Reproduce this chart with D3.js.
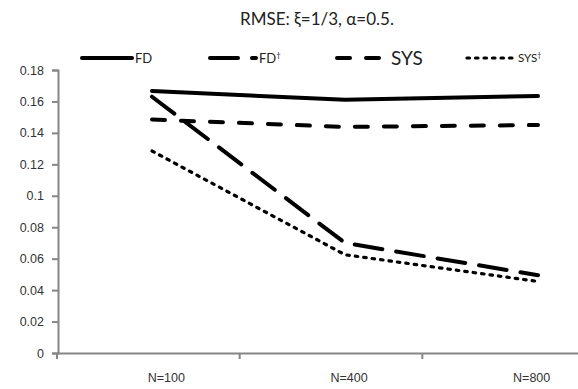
<!DOCTYPE html>
<html>
<head>
<meta charset="utf-8">
<script src="https://cdn.jsdelivr.net/npm/d3@7"></script>
<style>
  body { margin: 0; background: #fff; }
  svg { font-family: Lato, "Open Sans", sans-serif; }
</style>
</head>
<body>
<div id="chart"></div>
<script>
// sizes
const width = 578;
const height = 389;

// data
const categories = ["N=100", "N=400", "N=800"];
const yTicks = [0, 0.02, 0.04, 0.06, 0.08, 0.1, 0.12, 0.14, 0.16, 0.18];
const fd = [0.1667, 0.161, 0.1635];
const fdDagger = [0.163, 0.070, 0.0495];
const sys = [0.1485, 0.1438, 0.145];
const sysDagger = [0.1285, 0.0625, 0.0455];

const seriesList = [
  { name: "FD", sup: "", values: fd, dash: null, width: 4 },
  { name: "FD", sup: "\u2020", values: fdDagger, dash: "28,14", width: 4 },
  { name: "SYS", sup: "", values: sys, dash: "13,16", width: 4 },
  { name: "SYS", sup: "\u2020", values: sysDagger, dash: "2.5,6", width: 3.2 }
];

const svg = d3.select("#chart").append("svg")
  .attr("width", width)
  .attr("height", height);

// axis band for the category ticks, points for the lines
const xBand = d3.scaleBand().domain(categories).range([57, 605]);
const xPoint = d3.scalePoint().domain(categories).range([152, 538]);
const y = d3.scaleLinear().domain([0, 0.18]).range([353, 70]);

// y axis
const yAxis = svg.append("g")
  .attr("transform", "translate(58,0)")
  .call(d3.axisLeft(y).tickValues(yTicks).tickSize(6).tickPadding(8)
    .tickFormat(d => d === 0 ? "0" : String(+d.toFixed(2))));
yAxis.select(".domain").attr("stroke", "#868686").attr("stroke-width", 2);
yAxis.selectAll(".tick line").attr("stroke", "#868686").attr("stroke-width", 2);
yAxis.selectAll(".tick text").attr("fill", "#333").style("font-size", "12.5px");

// x axis
const xAxis = svg.append("g")
  .attr("transform", "translate(0,353)")
  .call(d3.axisBottom(xBand).tickSize(0).tickPadding(20));
xAxis.select(".domain").attr("stroke", "#868686").attr("stroke-width", 2);
xAxis.selectAll(".tick text")
  .attr("fill", "#333")
  .attr("dx", 18)
  .style("font-size", "12.5px");
// tick marks between categories
xAxis.selectAll(".bound")
  .data(categories)
  .enter()
  .append("line")
  .attr("x1", d => xBand(d))
  .attr("x2", d => xBand(d))
  .attr("y1", 0)
  .attr("y2", 6)
  .attr("stroke", "#868686")
  .attr("stroke-width", 2);

// lines
const line = d3.line()
  .x((d, i) => xPoint(categories[i]))
  .y(d => y(d));

seriesList.forEach(function (s) {
  svg.append("path")
    .datum(s.values)
    .attr("d", line)
    .attr("fill", "none")
    .attr("stroke", "#000")
    .attr("stroke-width", s.width)
    .attr("stroke-linecap", "round")
    .attr("stroke-linejoin", "round")
    .attr("stroke-dasharray", s.dash);
});

// title
svg.append("text")
  .attr("x", 240)
  .attr("y", 25)
  .attr("fill", "#222")
  .style("font-size", "17px")
  .text("RMSE: \u03be=1/3, \u03b1=0.5.");

// legend
const legend = [
  { x1: 82, x2: 132, tx: 135, size: 13 },
  { x1: 210, x2: 256, tx: 259, size: 13 },
  { x1: 337, x2: 381, tx: 391, size: 19 },
  { x1: 467, x2: 513, tx: 518, size: 11.5 }
];
legend.forEach(function (l, i) {
  const s = seriesList[i];
  svg.append("line")
    .attr("x1", l.x1)
    .attr("x2", l.x2)
    .attr("y1", 58)
    .attr("y2", 58)
    .attr("stroke", "#000")
    .attr("stroke-width", s.width)
    .attr("stroke-linecap", "round")
    .attr("stroke-dasharray", s.dash);
  const t = svg.append("text")
    .attr("x", l.tx)
    .attr("y", 58 + l.size * 0.36)
    .attr("fill", "#222")
    .style("font-size", l.size + "px")
    .text(s.name);
  if (s.sup) {
    t.append("tspan")
      .attr("dy", -l.size * 0.35)
      .style("font-size", (l.size * 0.6) + "px")
      .text(s.sup);
  }
});
</script>
</body>
</html>
